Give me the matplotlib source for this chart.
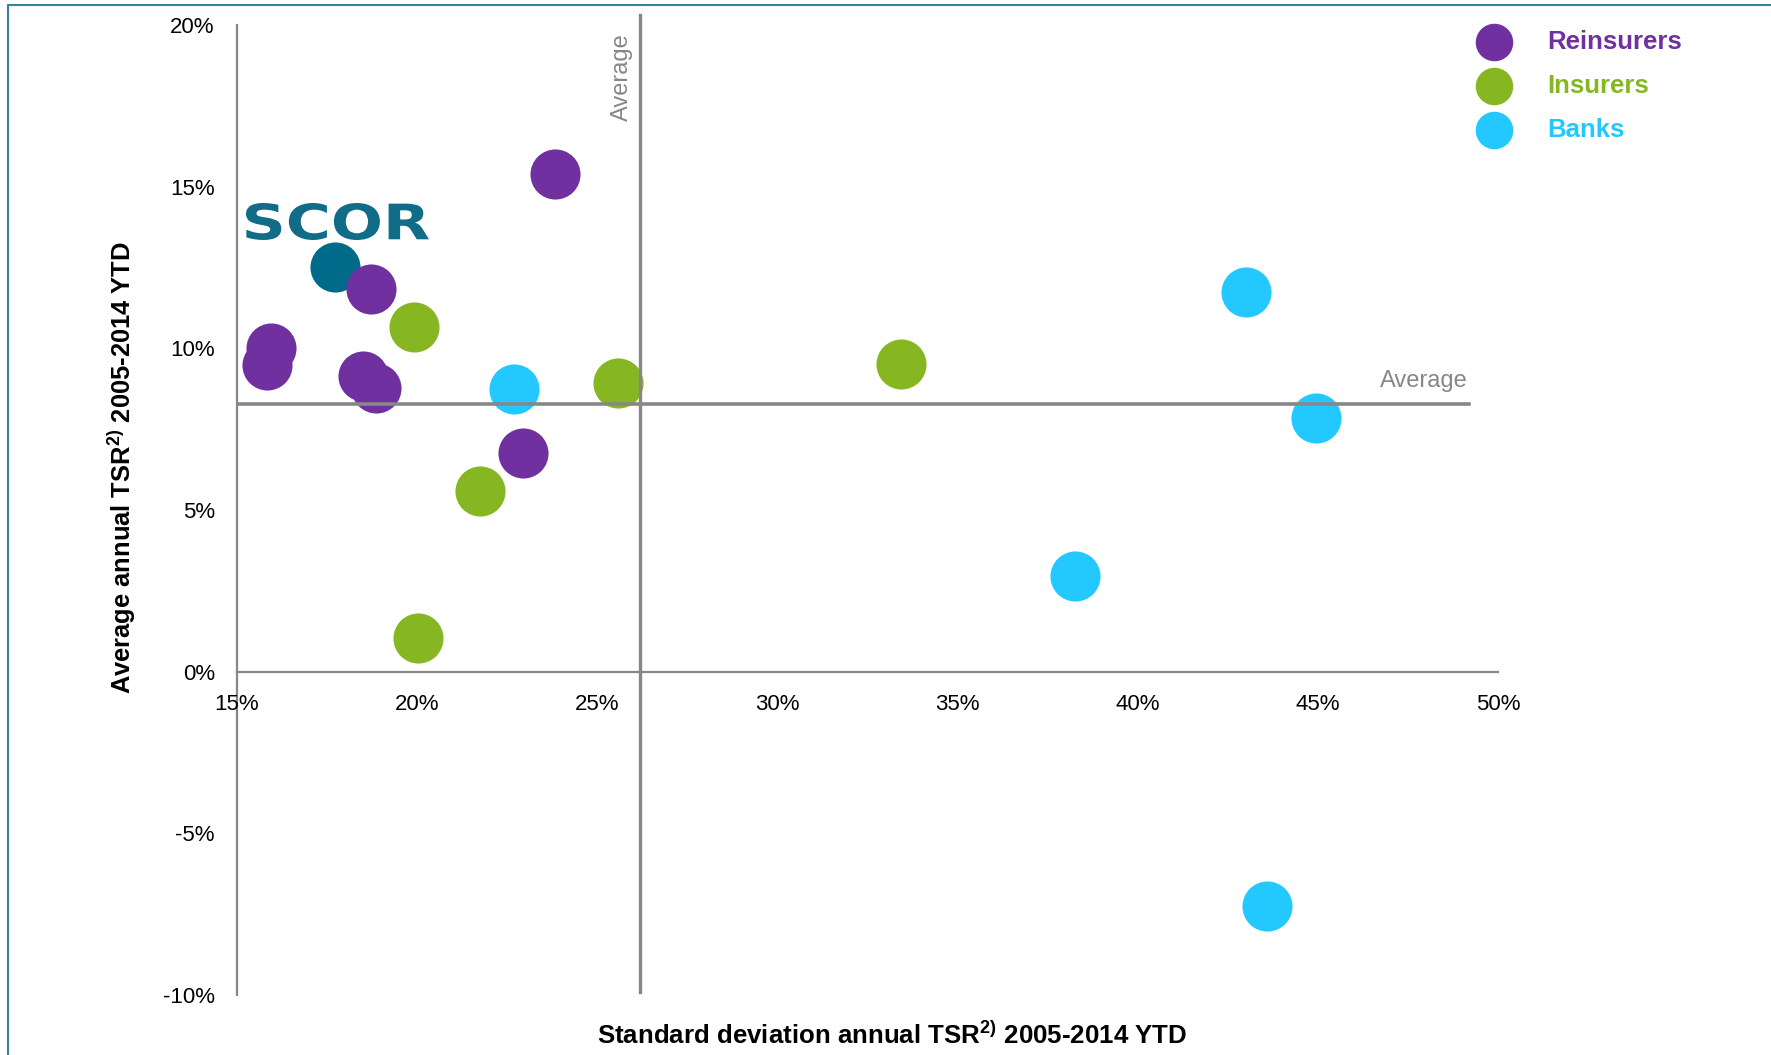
import matplotlib
matplotlib.use('Agg')
import matplotlib.pyplot as plt
from matplotlib.lines import Line2D
from matplotlib.textpath import TextPath
from matplotlib.patches import PathPatch
from matplotlib.font_manager import FontProperties
from matplotlib.transforms import Affine2D

plt.rcParams['font.family'] = ['Liberation Sans', 'DejaVu Sans']
plt.rcParams['mathtext.fontset'] = 'custom'
plt.rcParams['mathtext.rm'] = 'Liberation Sans:bold'
plt.rcParams['mathtext.it'] = 'Liberation Sans:italic:bold'

# std dev of annual TSR (%), average annual TSR (%)
reins_x = [23.84, 18.73, 15.94, 15.82, 18.51, 18.86, 22.93]
reins_y = [15.39, 11.83, 10.02, 9.49, 9.14, 8.76, 6.77]
ins_x = [19.92, 25.57, 33.44, 21.74, 20.02]
ins_y = [10.65, 8.94, 9.53, 5.58, 1.05]
banks_x = [22.68, 43.0, 44.95, 38.27, 43.6]
banks_y = [8.73, 11.73, 7.85, 2.97, -7.26]
scor_x = [17.73]
scor_y = [12.53]
avg_x = 26.19
avg_y = 8.29

groups = ['Reinsurers', 'Insurers', 'Banks']
colors = ['#7030A0', '#86B723', '#22C8FF']
scor_color = '#006A8A'
grey = '#878787'

W, H = 1771, 1055
fig = plt.figure(figsize=(W / 100, H / 100), dpi=100)
ax = fig.add_axes([237 / W, 60 / H, 1261 / W, 970 / H])
ax.set_xlim(15, 50)
ax.set_ylim(-10, 20)

ax.scatter(scor_x, scor_y, s=1300, color=scor_color, linewidths=0, zorder=2)
ax.scatter(reins_x, reins_y, s=1300, color=colors[0], linewidths=0, zorder=2)
ax.scatter(ins_x, ins_y, s=1300, color=colors[1], linewidths=0, zorder=2)
ax.scatter(banks_x, banks_y, s=1300, color=colors[2], linewidths=0, zorder=2)

# average lines (drawn over the bubbles)
ax.plot([avg_x, avg_x], [-9.9, 20.3], color=grey, lw=2.4, zorder=3, clip_on=False)
ax.plot([15.06, 49.2], [avg_y, avg_y], color=grey, lw=2.6, zorder=3, clip_on=False)
ax.text(avg_x - 0.5, 19.75, 'Average', rotation=90, ha='center', va='top',
        fontsize=17, color=grey)
ax.text(49.17, 9.0, 'Average', ha='right', va='center', fontsize=17, color=grey)

# axes
for s in ['top', 'right']:
    ax.spines[s].set_visible(False)
ax.spines['bottom'].set_position(('data', 0))
for s in ['left', 'bottom']:
    ax.spines[s].set_color(grey)
    ax.spines[s].set_linewidth(1.6)
    ax.spines[s].set_zorder(1)

xt = [15, 20, 25, 30, 35, 40, 45, 50]
yt = [-10, -5, 0, 5, 10, 15, 20]
ax.set_xticks(xt)
ax.set_xticklabels([f'{v}%' for v in xt])
ax.set_yticks(yt)
ax.set_yticklabels([f'{v}%' for v in yt])
ax.tick_params(length=0, labelsize=16)
ax.tick_params(axis='x', pad=16)
ax.tick_params(axis='y', pad=16)

fig.text(892 / W, 1 - 1035 / H,
         r'Standard deviation annual TSR$^{\mathit{2)}}$ 2005-2014 YTD',
         ha='center', va='center', fontsize=18.6, fontweight='bold')
fig.text(122 / W, 1 - 468 / H,
         r'Average annual TSR$^{\mathit{2)}}$ 2005-2014 YTD',
         ha='center', va='center', rotation=90, fontsize=18.4, fontweight='bold')

# SCOR logo drawn as a stretched text path
tp = TextPath((0, 0), 'SCOR', size=40,
              prop=FontProperties(family='DejaVu Sans', weight='bold'))
ext = tp.get_extents()
lx0, lw, lb, lh = 246, 183, 815, 37
tr = (Affine2D().translate(-ext.x0, -ext.y0)
      .scale(lw / ext.width / W, lh / ext.height / H)
      .translate(lx0 / W, lb / H) + fig.transFigure)
fig.add_artist(PathPatch(tp, transform=tr, facecolor='#116C87', edgecolor='none'))

# legend
for i, (g, c) in enumerate(zip(groups, colors)):
    yy = 1 - (42 + 44 * i) / H
    fig.add_artist(Line2D([1494 / W], [yy], marker='o', markersize=26,
                          color=c, linestyle='none', transform=fig.transFigure))
    fig.text(1547 / W, yy, g, ha='left', va='center', fontsize=18.5,
             fontweight='bold', color=c)

# frame border
fig.add_artist(Line2D([8 / W, 8 / W, 1], [0, 1 - 5 / H, 1 - 5 / H],
                      color='#31849B', lw=1.5, transform=fig.transFigure))

fig.savefig('out.png', dpi=100)
